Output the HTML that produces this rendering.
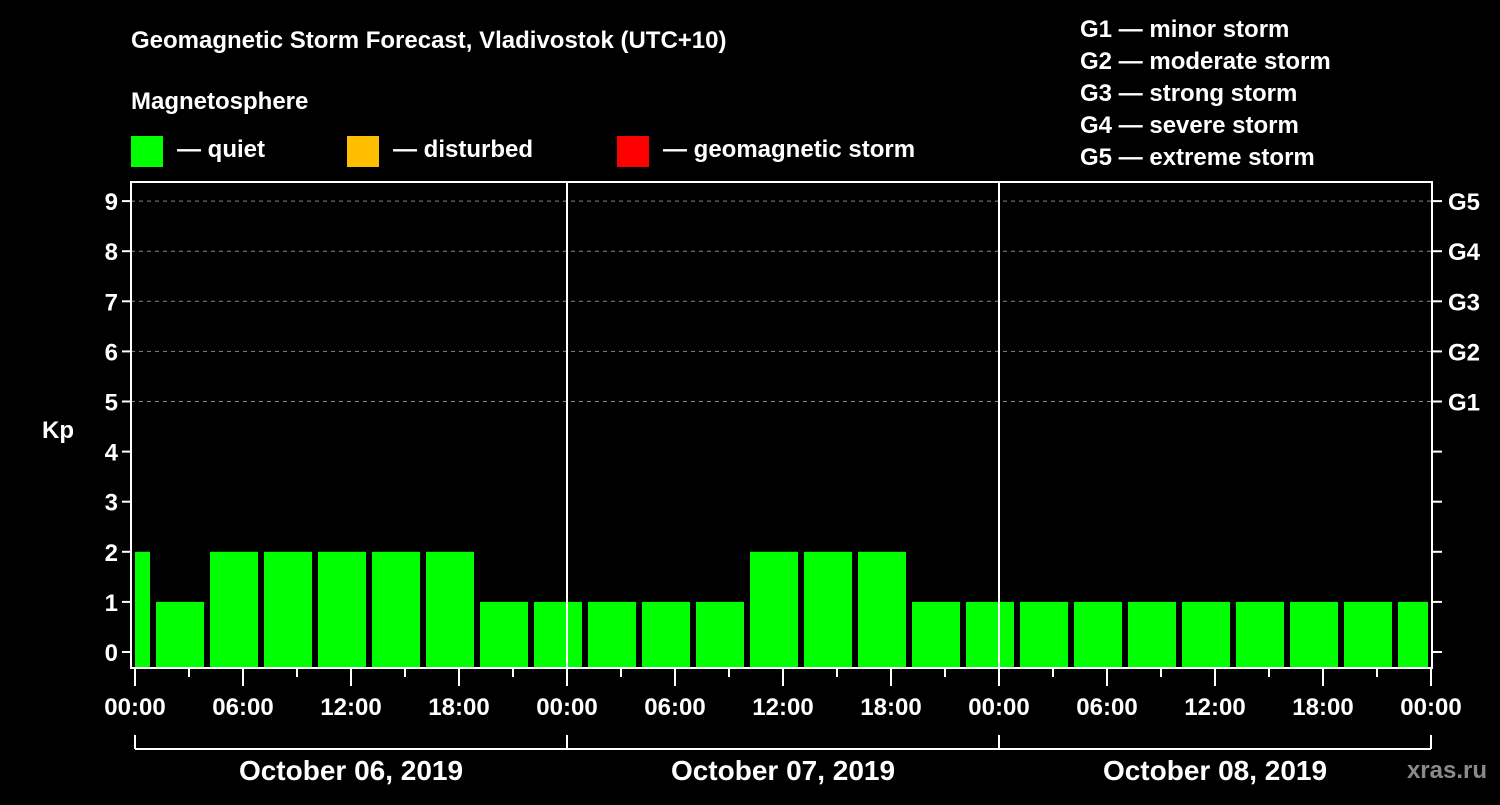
<!DOCTYPE html>
<html><head><meta charset="utf-8"><style>
body{margin:0;background:#000;width:1500px;height:800px;overflow:hidden}
svg text{font-family:"Liberation Sans",sans-serif;font-weight:bold;fill:#fff}
</style></head><body>
<svg id="c" width="1500" height="800">
<text x="131" y="48" font-size="24">Geomagnetic Storm Forecast, Vladivostok (UTC+10)</text>
<text x="131" y="109" font-size="24">Magnetosphere</text>
<g><rect x="131" y="136" width="32" height="31" fill="#00ff00"/><text x="177" y="157" font-size="24">— quiet</text></g>
<g><rect x="347" y="136" width="32" height="31" fill="#ffbf00"/><text x="393" y="157" font-size="24">— disturbed</text></g>
<g><rect x="617" y="136" width="32" height="31" fill="#ff0000"/><text x="663" y="157" font-size="24">— geomagnetic storm</text></g>
<g font-size="24">
<text x="1080" y="37">G1 — minor storm</text>
<text x="1080" y="69">G2 — moderate storm</text>
<text x="1080" y="101">G3 — strong storm</text>
<text x="1080" y="133">G4 — severe storm</text>
<text x="1080" y="165">G5 — extreme storm</text>
</g>
<text x="42" y="438" font-size="24">Kp</text>
<text x="1487" y="778" font-size="24" text-anchor="end" fill="#888" style="fill:#8a8a8a">xras.ru</text>
<g id="grid"></g><g id="bars"></g><g id="axes"></g>
</svg>
<script>
const kpValues=[2,1,2,2,2,2,2,1,1,1,1,1,2,2,2,1,1,1,1,1,1,1,1,1,1];
const binStartHours=[-2,1,4,7,10,13,16,19,22,25,28,31,34,37,40,43,46,49,52,55,58,61,64,67,70];
const xTickLabels=["00:00","06:00","12:00","18:00","00:00","06:00","12:00","18:00","00:00","06:00","12:00","18:00","00:00"];
const dayLabels=["October 06, 2019","October 07, 2019","October 08, 2019"];
const gLabels=["G1","G2","G3","G4","G5"];
const NS="http://www.w3.org/2000/svg";
const L=131,R=1432,T=182,B=668,X0=135;
const x=h=>X0+h*18;
const y=k=>652-k*50.1;
function mk(t,a,p){const e=document.createElementNS(NS,t);for(const k in a)e.setAttribute(k,a[k]);p.appendChild(e);return e;}
const grid=document.getElementById('grid'),bars=document.getElementById('bars'),axes=document.getElementById('axes');
for(let k=5;k<=9;k++){const l=mk('line',{x1:L,x2:R,y1:y(k),y2:y(k),stroke:'#888','stroke-dasharray':'4,4','stroke-width':1},grid);

}
kpValues.forEach((v,i)=>{const s=binStartHours[i];let x1=Math.max(x(s)+3,X0),x2=Math.min(x(s+3)-3,1428);
const r=mk('rect',{x:x1,y:y(v),width:x2-x1,height:B-1-y(v),fill:'#00ff00'},bars);

});
const f=mk('rect',{x:L,y:T,width:R-L,height:B-T,fill:'none',stroke:'#fff','stroke-width':2},axes);


[24,48].forEach(h=>{const l=mk('line',{x1:x(h),x2:x(h),y1:T,y2:B,stroke:'#fff','stroke-width':2},axes);

});
for(let k=0;k<=9;k++){mk('line',{x1:L-9,x2:L,y1:y(k),y2:y(k),stroke:'#fff','stroke-width':2},axes);
mk('line',{x1:R,x2:R+10,y1:y(k),y2:y(k),stroke:'#fff','stroke-width':2},axes);
const t=mk('text',{x:118,y:y(k)+9,'font-size':24,'text-anchor':'end'},axes);t.textContent=k;

}
gLabels.forEach((g,i)=>{const t=mk('text',{x:1448,y:y(5+i)+9,'font-size':24},axes);t.textContent=g;

});
for(let h=0;h<=72;h+=3){const maj=h%6===0;mk('line',{x1:x(h),x2:x(h),y1:B,y2:B+(maj?18:9),stroke:'#fff','stroke-width':2},axes);}
xTickLabels.forEach((s,i)=>{const t=mk('text',{x:x(i*6),y:715,'font-size':24,'text-anchor':'middle'},axes);t.textContent=s;

});
mk('line',{x1:x(0),x2:x(72),y1:749,y2:749,stroke:'#fff','stroke-width':2},axes);
for(let d=0;d<=3;d++)mk('line',{x1:x(d*24),x2:x(d*24),y1:735,y2:749,stroke:'#fff','stroke-width':2},axes);
dayLabels.forEach((s,i)=>{const t=mk('text',{x:x(i*24+12),y:780,'font-size':28,'text-anchor':'middle'},axes);t.textContent=s;

});
</script>
</body></html>
